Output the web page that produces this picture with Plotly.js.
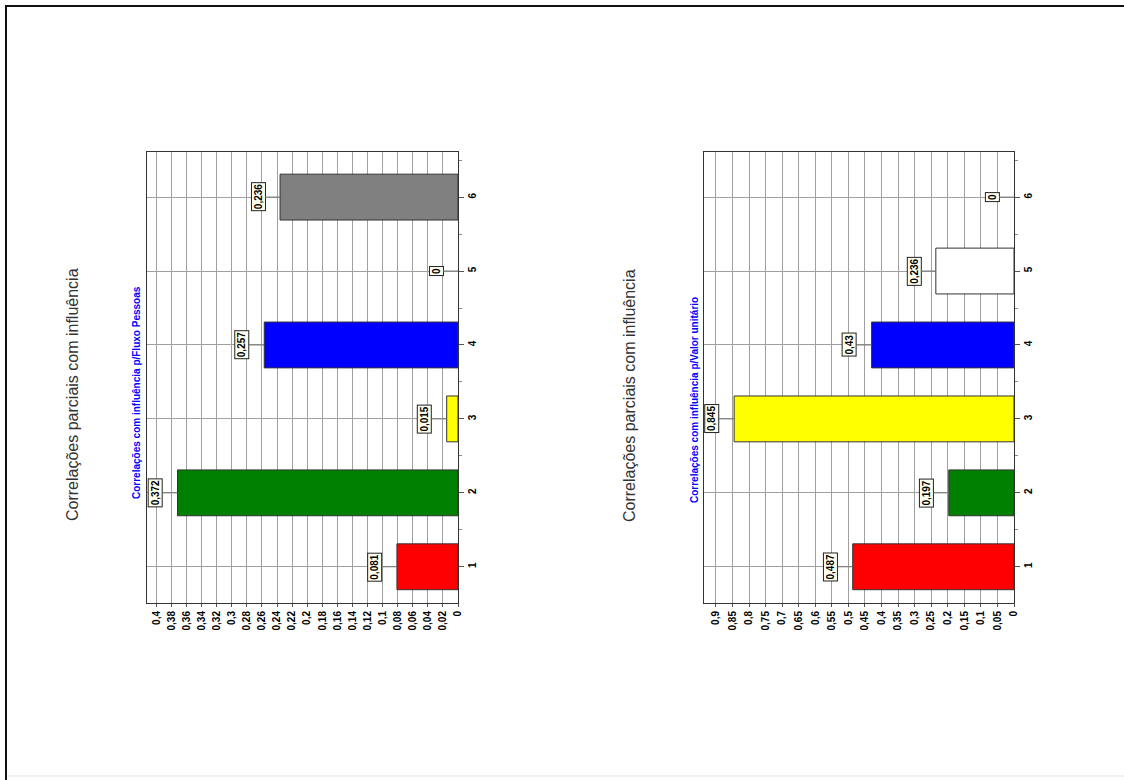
<!DOCTYPE html>
<html><head><meta charset="utf-8">
<script src="https://cdn.plot.ly/plotly-3.0.1.min.js"></script>
<style>html,body{margin:0;padding:0;background:#fff}#chart{width:1124px;height:780px}</style>
</head><body><div id="chart"></div>
<script>
// Data
const categories = [1, 2, 3, 4, 5, 6];
const fluxoPessoas = [0.081, 0.372, 0.015, 0.257, 0, 0.236];
const valorUnitario = [0.487, 0.197, 0.845, 0.43, 0.236, 0];
const coresFluxo = ['#ff0000', '#008000', '#ffff00', '#0000ff', '#ffffff', '#808080'];
const coresValor = ['#ff0000', '#008000', '#ffff00', '#0000ff', '#ffffff', '#ffffff'];
const mainTitle = 'Correlações parciais com influência';
const subtitleFluxo = 'Correlações com influência p/Fluxo Pessoas';
const subtitleValor = 'Correlações com influência p/Valor unitário';

const W = 1124, H = 780;
const FONT = 'Liberation Sans, Arial, sans-serif';
const px = v => v / W;
const py = v => 1 - v / H;
const fmt = v => String(v).replace('.', ',');

function barTrace(vals, colors, xa, ya) {
  return {
    type: 'bar', orientation: 'h', x: vals, y: categories, width: 0.62,
    marker: {color: colors, line: {color: '#333', width: vals.map(v => v === 0 ? 0 : 1)}},
    xaxis: xa, yaxis: ya, hoverinfo: 'none', showlegend: false
  };
}

function valueAxis(domain, range, dtick, anchor) {
  return {
    domain: domain, range: range, anchor: anchor,
    tickmode: 'linear', tick0: 0, dtick: dtick, tickangle: -90,
    tickfont: {size: 10, family: FONT, color: '#000', weight: 'bold'},
    showgrid: true, gridcolor: '#a0a0a0', gridwidth: 1,
    showline: true, linecolor: '#333', linewidth: 1, mirror: true,
    ticks: 'outside', ticklen: 3, tickcolor: '#555',
    zeroline: false, fixedrange: true
  };
}

function catAxis(anchor) {
  return {
    domain: [py(603), py(152)], range: [0.51, 6.61], anchor: anchor, side: 'right',
    tickmode: 'array', tickvals: categories, ticktext: categories.map(String), tickangle: -90,
    tickfont: {size: 10, family: FONT, color: '#000', weight: 'bold'},
    showgrid: true, gridcolor: '#a0a0a0', gridwidth: 1,
    showline: true, linecolor: '#333', linewidth: 1, mirror: true,
    ticks: 'outside', ticklen: 5, tickcolor: '#555',
    minor: {tickmode: 'linear', tick0: 0.5, dtick: 1, ticks: 'outside', ticklen: 3, tickcolor: '#888', showgrid: false},
    zeroline: false, fixedrange: true
  };
}

function valueLabels(vals, xa, ya) {
  return vals.map((v, i) => ({
    xref: xa, yref: ya, x: v, y: categories[i], text: fmt(v), textangle: -90,
    showarrow: true, arrowhead: 0, arrowwidth: 1, arrowcolor: '#777', ax: -22, ay: 0,
    font: {size: 10, family: FONT, color: '#000', weight: 'bold'},
    bgcolor: '#fffff0', bordercolor: '#222', borderwidth: 1, borderpad: 1
  }));
}

function textAnn(x, y, text, size, color, bold) {
  return {
    xref: 'paper', yref: 'paper', x: px(x), y: py(y), text: text, textangle: -90,
    showarrow: false, xanchor: 'center', yanchor: 'middle',
    font: {size: size, family: FONT, color: color, weight: bold ? 'bold' : 'normal'}
  };
}

const data = [
  barTrace(fluxoPessoas, coresFluxo, 'x', 'y'),
  barTrace(valorUnitario, coresValor, 'x2', 'y2')
];

const layout = {
  width: W, height: H,
  margin: {l: 0, r: 0, t: 0, b: 0},
  paper_bgcolor: '#fff', plot_bgcolor: '#fff',
  separators: ',.',
  showlegend: false,
  xaxis: valueAxis([px(147), px(458)], [0.4125, 0], 0.02, 'y'),
  yaxis: catAxis('x'),
  xaxis2: valueAxis([px(704), px(1014)], [0.936, 0], 0.05, 'y2'),
  yaxis2: catAxis('x2'),
  annotations: [
    textAnn(72, 395, mainTitle, 16, '#333', false),
    textAnn(629, 396, mainTitle, 16, '#333', false),
    textAnn(136, 393, subtitleFluxo, 10, '#0000ff', true),
    textAnn(695, 400, subtitleValor, 10, '#0000ff', true)
  ].concat(valueLabels(fluxoPessoas, 'x', 'y'), valueLabels(valorUnitario, 'x2', 'y2')),
  shapes: [
    {type: 'line', xref: 'paper', yref: 'paper', x0: px(6), x1: px(6), y0: py(5), y1: 0, line: {color: '#111', width: 2}},
    {type: 'line', xref: 'paper', yref: 'paper', x0: px(5), x1: 1, y0: py(6), y1: py(6), line: {color: '#111', width: 2}},
    {type: 'line', xref: 'paper', yref: 'paper', x0: px(7), x1: 1, y0: py(776), y1: py(776), line: {color: '#e4e4e4', width: 1}}
  ]
};

Plotly.newPlot('chart', data, layout, {staticPlot: true, displayModeBar: false});
</script>
</body></html>
